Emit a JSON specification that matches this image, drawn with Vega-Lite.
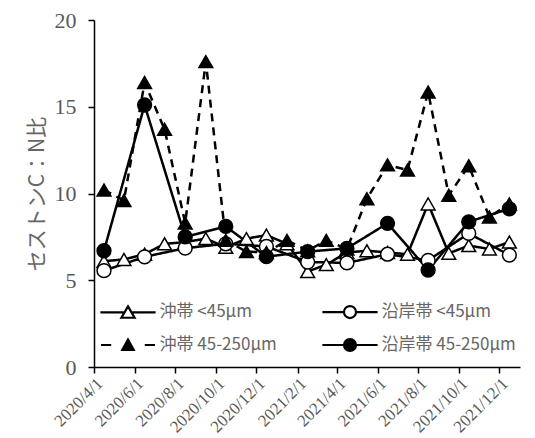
{
  "$schema": "https://vega.github.io/schema/vega-lite/v6.json",
  "width": 426,
  "height": 347,
  "autosize": {"type": "none"},
  "padding": {"left": 94, "top": 20, "right": 15, "bottom": 71},
  "background": "white",
  "config": {
    "view": {"stroke": null},
    "axis": {"grid": false, "domainColor": "black", "tickColor": "black", "domainWidth": 1.5, "tickWidth": 1.5},
    "legend": {"symbolStrokeColor": "black", "symbolStrokeWidth": 2.2}
  },
  "data": {
    "values": [
      {"series": "沖帯 <45μm", "date": "2020/04/16", "value": 6.1},
      {"series": "沖帯 <45μm", "date": "2020/05/16", "value": 6.2},
      {"series": "沖帯 <45μm", "date": "2020/06/16", "value": 6.5},
      {"series": "沖帯 <45μm", "date": "2020/07/16", "value": 7.1},
      {"series": "沖帯 <45μm", "date": "2020/08/16", "value": 7.2},
      {"series": "沖帯 <45μm", "date": "2020/09/16", "value": 7.4},
      {"series": "沖帯 <45μm", "date": "2020/10/16", "value": 6.9},
      {"series": "沖帯 <45μm", "date": "2020/11/16", "value": 7.4},
      {"series": "沖帯 <45μm", "date": "2020/12/16", "value": 7.6},
      {"series": "沖帯 <45μm", "date": "2021/01/16", "value": 7.1},
      {"series": "沖帯 <45μm", "date": "2021/02/16", "value": 5.5},
      {"series": "沖帯 <45μm", "date": "2021/03/16", "value": 5.9},
      {"series": "沖帯 <45μm", "date": "2021/04/16", "value": 6.6},
      {"series": "沖帯 <45μm", "date": "2021/05/16", "value": 6.7},
      {"series": "沖帯 <45μm", "date": "2021/06/16", "value": 6.6},
      {"series": "沖帯 <45μm", "date": "2021/07/16", "value": 6.5},
      {"series": "沖帯 <45μm", "date": "2021/08/16", "value": 9.4},
      {"series": "沖帯 <45μm", "date": "2021/09/16", "value": 6.55},
      {"series": "沖帯 <45μm", "date": "2021/10/16", "value": 7.0},
      {"series": "沖帯 <45μm", "date": "2021/11/16", "value": 6.8},
      {"series": "沖帯 <45μm", "date": "2021/12/16", "value": 7.2},

      {"series": "沿岸帯 <45μm", "date": "2020/04/16", "value": 5.55},
      {"series": "沿岸帯 <45μm", "date": "2020/06/16", "value": 6.35},
      {"series": "沿岸帯 <45μm", "date": "2020/08/16", "value": 6.85},
      {"series": "沿岸帯 <45μm", "date": "2020/10/16", "value": 7.1},
      {"series": "沿岸帯 <45μm", "date": "2020/12/16", "value": 6.95},
      {"series": "沿岸帯 <45μm", "date": "2021/02/16", "value": 6.05},
      {"series": "沿岸帯 <45μm", "date": "2021/04/16", "value": 6.0},
      {"series": "沿岸帯 <45μm", "date": "2021/06/16", "value": 6.5},
      {"series": "沿岸帯 <45μm", "date": "2021/08/16", "value": 6.15},
      {"series": "沿岸帯 <45μm", "date": "2021/10/16", "value": 7.7},
      {"series": "沿岸帯 <45μm", "date": "2021/12/16", "value": 6.45},

      {"series": "沖帯 45-250μm", "date": "2020/04/16", "value": 10.2},
      {"series": "沖帯 45-250μm", "date": "2020/05/16", "value": 9.6},
      {"series": "沖帯 45-250μm", "date": "2020/06/16", "value": 16.4},
      {"series": "沖帯 45-250μm", "date": "2020/07/16", "value": 13.7},
      {"series": "沖帯 45-250μm", "date": "2020/08/16", "value": 8.3},
      {"series": "沖帯 45-250μm", "date": "2020/09/16", "value": 17.6},
      {"series": "沖帯 45-250μm", "date": "2020/10/16", "value": 7.3},
      {"series": "沖帯 45-250μm", "date": "2020/11/16", "value": 6.65},
      {"series": "沖帯 45-250μm", "date": "2020/12/16", "value": 6.6},
      {"series": "沖帯 45-250μm", "date": "2021/01/16", "value": 7.3},
      {"series": "沖帯 45-250μm", "date": "2021/02/16", "value": 6.7},
      {"series": "沖帯 45-250μm", "date": "2021/03/16", "value": 7.3},
      {"series": "沖帯 45-250μm", "date": "2021/04/16", "value": 6.8},
      {"series": "沖帯 45-250μm", "date": "2021/05/16", "value": 9.7},
      {"series": "沖帯 45-250μm", "date": "2021/06/16", "value": 11.65},
      {"series": "沖帯 45-250μm", "date": "2021/07/16", "value": 11.35},
      {"series": "沖帯 45-250μm", "date": "2021/08/16", "value": 15.85},
      {"series": "沖帯 45-250μm", "date": "2021/09/16", "value": 9.9},
      {"series": "沖帯 45-250μm", "date": "2021/10/16", "value": 11.6},
      {"series": "沖帯 45-250μm", "date": "2021/11/16", "value": 8.65},
      {"series": "沖帯 45-250μm", "date": "2021/12/16", "value": 9.4},

      {"series": "沿岸帯 45-250μm", "date": "2020/04/16", "value": 6.7},
      {"series": "沿岸帯 45-250μm", "date": "2020/06/16", "value": 15.1},
      {"series": "沿岸帯 45-250μm", "date": "2020/08/16", "value": 7.5},
      {"series": "沿岸帯 45-250μm", "date": "2020/10/16", "value": 8.1},
      {"series": "沿岸帯 45-250μm", "date": "2020/12/16", "value": 6.36},
      {"series": "沿岸帯 45-250μm", "date": "2021/02/16", "value": 6.65},
      {"series": "沿岸帯 45-250μm", "date": "2021/04/16", "value": 6.84},
      {"series": "沿岸帯 45-250μm", "date": "2021/06/16", "value": 8.28},
      {"series": "沿岸帯 45-250μm", "date": "2021/08/16", "value": 5.59},
      {"series": "沿岸帯 45-250μm", "date": "2021/10/16", "value": 8.37},
      {"series": "沿岸帯 45-250μm", "date": "2021/12/16", "value": 9.12}
    ]
  },
  "encoding": {
    "x": {
      "field": "date",
      "type": "temporal",
      "scale": {"domain": [{"year": 2020, "month": 4, "date": 1}, {"year": 2022, "month": 1, "date": 1}]},
      "axis": {
        "title": null,
        "values": [
          {"year": 2020, "month": 4, "date": 1},
          {"year": 2020, "month": 6, "date": 1},
          {"year": 2020, "month": 8, "date": 1},
          {"year": 2020, "month": 10, "date": 1},
          {"year": 2020, "month": 12, "date": 1},
          {"year": 2021, "month": 2, "date": 1},
          {"year": 2021, "month": 4, "date": 1},
          {"year": 2021, "month": 6, "date": 1},
          {"year": 2021, "month": 8, "date": 1},
          {"year": 2021, "month": 10, "date": 1},
          {"year": 2021, "month": 12, "date": 1}
        ],
        "format": "%Y/%-m/%-d",
        "labelAngle": -45,
        "labelOverlap": false,
        "labelFont": "Liberation Serif",
        "labelFontSize": 17,
        "labelColor": "#595959",
        "labelDx": 5,
        "labelDy": 5,
        "tickSize": 6,
        "labelPadding": 2
      }
    },
    "y": {
      "field": "value",
      "type": "quantitative",
      "scale": {"domain": [0, 20], "nice": false},
      "axis": {
        "values": [0, 5, 10, 15, 20],
        "title": "セストンC：N比",
        "titleFont": "Noto Sans CJK JP",
        "titleFontSize": 21,
        "titleFontWeight": "normal",
        "titleColor": "#666666",
        "titlePadding": 7,
        "labelFont": "Liberation Serif",
        "labelFontSize": 22,
        "labelColor": "#595959",
        "labelPadding": 12,
        "tickSize": 6
      }
    }
  },
  "layer": [
    {
      "mark": {"type": "line", "stroke": "black", "strokeWidth": 2.5},
      "encoding": {
        "strokeDash": {
          "field": "series",
          "type": "nominal",
          "scale": {
            "domain": ["沖帯 <45μm", "沿岸帯 <45μm", "沖帯 45-250μm", "沿岸帯 45-250μm"],
            "range": [[1, 0], [1, 0], [8, 6], [1, 0]]
          },
          "legend": null
        }
      }
    },
    {
      "mark": {"type": "point", "filled": true, "stroke": "black", "strokeWidth": 1.5, "opacity": 1, "size": 190},
      "encoding": {
        "shape": {
          "field": "series",
          "type": "nominal",
          "scale": {
            "domain": ["沖帯 <45μm", "沿岸帯 <45μm", "沖帯 45-250μm", "沿岸帯 45-250μm"],
            "range": ["triangle-up", "circle", "triangle-up", "circle"]
          },
          "legend": null
        },
        "fill": {
          "field": "series",
          "type": "nominal",
          "scale": {
            "domain": ["沖帯 <45μm", "沿岸帯 <45μm", "沖帯 45-250μm", "沿岸帯 45-250μm"],
            "range": ["white", "white", "black", "black"]
          },
          "legend": null
        }
      }
    },
    {
      "transform": [{"filter": "datum.value < 0"}],
      "mark": {"type": "point", "filled": true, "stroke": "black", "opacity": 1},
      "encoding": {
        "shape": {
          "field": "series",
          "type": "nominal",
          "scale": {
            "domain": ["沖帯 <45μm", "沿岸帯 <45μm", "沖帯 45-250μm", "沿岸帯 45-250μm"],
            "range": [
              "M-4.6,0H-0.55M0.55,0H4.6M0,-1L1.1,0.9L-1.1,0.9Z",
              "M-4.6,0H-1M1,0H4.6M-1,0A1,1,0,1,0,1,0A1,1,0,1,0,-1,0Z",
              "M-4.5,0H-2.8M2.8,0H4.5M0,-0.9L0.95,0.8L-0.95,0.8Z",
              "M-4.6,0H-1M1,0H4.6M-1,0A1,1,0,1,0,1,0A1,1,0,1,0,-1,0Z"
            ]
          },
          "legend": {
            "title": null,
            "orient": "none",
            "legendX": 25.5,
            "legendY": 283.5,
            "direction": "horizontal",
            "columns": 2,
            "padding": 0,
            "symbolSize": 144,
            "symbolStrokeWidth": 2.2,
            "symbolStrokeColor": "black",
            "symbolOpacity": 1,
            "labelOffset": 23,
            "labelFont": "Noto Sans CJK JP",
            "labelFontSize": 17,
            "labelColor": "#666666",
            "rowPadding": 12,
            "columnPadding": 40,
            "encode": {
              "symbols": {
                "update": {
                  "stroke": {"value": "black"},
                  "strokeWidth": {"value": 2.2}
                }
              }
            }
          }
        },
        "fill": {
          "field": "series",
          "type": "nominal",
          "scale": {
            "domain": ["沖帯 <45μm", "沿岸帯 <45μm", "沖帯 45-250μm", "沿岸帯 45-250μm"],
            "range": ["white", "white", "black", "black"]
          },
          "legend": {
            "title": null,
            "orient": "none",
            "legendX": 25.5,
            "legendY": 283.5,
            "direction": "horizontal",
            "columns": 2,
            "padding": 0,
            "symbolSize": 144,
            "symbolStrokeWidth": 2.2,
            "symbolStrokeColor": "black",
            "symbolOpacity": 1,
            "labelOffset": 23,
            "labelFont": "Noto Sans CJK JP",
            "labelFontSize": 17,
            "labelColor": "#666666",
            "rowPadding": 12,
            "columnPadding": 40,
            "encode": {
              "symbols": {
                "update": {
                  "stroke": {"value": "black"},
                  "strokeWidth": {"value": 2.2}
                }
              }
            }
          }
        }
      }
    }
  ],
  "resolve": {"scale": {"shape": "independent", "fill": "independent"}}
}
